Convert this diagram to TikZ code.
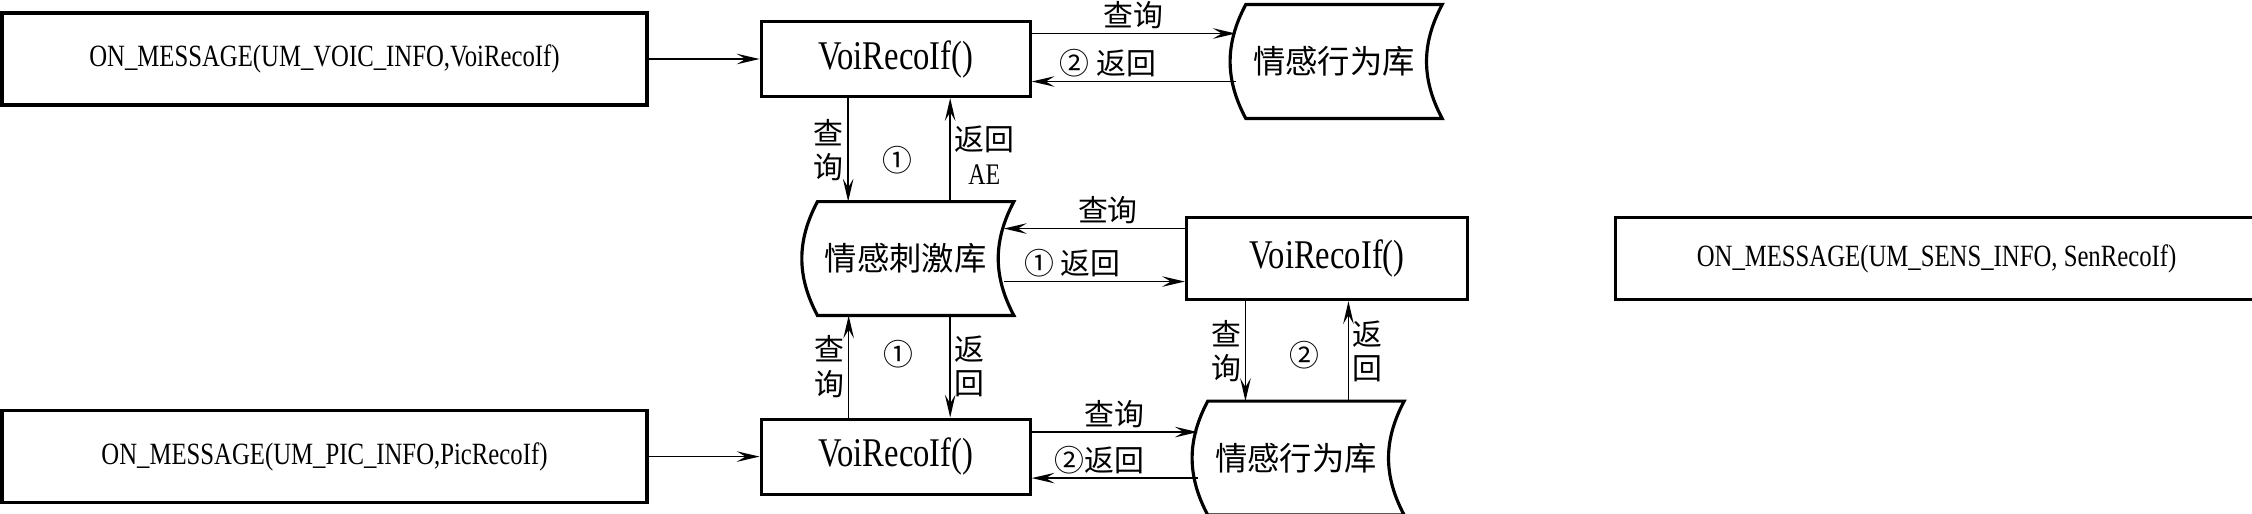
\documentclass[tikz,border=0pt]{standalone}
\usepackage{fontspec}
\setmainfont[FakeStretch=0.8]{Liberation Serif}
\newfontfamily\cjk{Noto Sans CJK SC}
\usetikzlibrary{arrows.meta, positioning}
\tikzset{
  msgbox/.style={draw, line width=0.9pt, minimum width=6.45cm, minimum height=0.92cm,
                 inner sep=0pt, font=\fontsize{8.8}{10}\selectfont},
  funcbox/.style={draw, line width=0.9pt, minimum width=2.69cm, minimum height=0.75cm,
                  inner sep=0pt, font=\fontsize{11.6}{13}\selectfont},
  storebox/.style={minimum width=1.95cm, minimum height=1.125cm, inner sep=0pt,
                   font=\cjk\fontsize{9.2}{10}\selectfont},
  storeline/.style={line width=0.9pt, line join=miter},
  arr/.style={-{Stealth[length=6.5pt, width=3pt, inset=2.5pt]}, line width=0.45pt},
  lbl/.style={font=\cjk\fontsize{8.5}{9.8}\selectfont, inner sep=1pt, align=center},
}
\begin{document}
\begin{tikzpicture}

  \useasboundingbox (0,0) rectangle (22.52,-5.13);
  \fill[white] (0,0) rectangle (22.52,-5.13);

  %% VOICE lane
  \node[msgbox] (voicmsg) at (3.245,-0.59) {ON\_MESSAGE(UM\_VOIC\_INFO,VoiRecoIf)};
  \node[funcbox, right=1.11cm of voicmsg] (voifunc) {VoiRecoIf()};
  \node[storebox, right=2.04cm of voifunc, yshift=-0.025cm] (behav1) {情感行为库};

  %% STIMULUS lane
  \node[storebox, below=1.035cm of voifunc, xshift=0.10cm] (stimlib) {情感刺激库};
  \node[funcbox, right=1.81cm of stimlib, minimum width=2.81cm, minimum height=0.82cm]
    (senfunc) {VoiRecoIf()};
  \node[msgbox, right=1.45cm of senfunc, minimum width=6.42cm, minimum height=0.82cm]
    (sensmsg) {ON\_MESSAGE(UM\_SENS\_INFO, SenRecoIf)};
  \node[storebox, below=1.00cm of senfunc, xshift=-0.31cm] (behav2) {情感行为库};

  %% PICTURE lane
  \node[funcbox, below=1.02cm of stimlib, xshift=-0.10cm] (picfunc) {VoiRecoIf()};
  \node[msgbox, left=1.11cm of picfunc] (picmsg) {ON\_MESSAGE(UM\_PIC\_INFO,PicRecoIf)};

  %% store outlines
  \foreach \lib in {behav1, stimlib, behav2}
    \draw[storeline] ([xshift=0.1cm]\lib.north) -- ([xshift=0.1cm]\lib.north east)
      to[bend right=28] ([xshift=0.1cm]\lib.south east) -- ([xshift=0.1cm]\lib.south west)
      to[bend left=28] ([xshift=0.1cm]\lib.north west) -- cycle;

  %% message arrows
  \draw[arr] (voicmsg.east) -- (voifunc.west);
  \draw[arr] (picmsg.east) -- (picfunc.west);

  %% voice <-> behaviour store
  \draw[arr] ([yshift=0.255cm]voifunc.east) -- node[lbl, above]{查询}
    ([yshift=0.255cm]voifunc.east -| behav1.west);
  \draw[arr] ([yshift=-0.225cm]voifunc.east -| behav1.west) -- node[lbl, above, xshift=-0.26cm]{② 返回}
    ([yshift=-0.225cm]voifunc.east);

  %% voice <-> stimulus store
  \draw[arr] ([xshift=-0.475cm]voifunc.south) -- node[lbl, left]{查\\询}
    node[lbl, right=0.3cm, pos=0.6]{①} ([xshift=-0.475cm]voifunc.south |- stimlib.north);
  \draw[arr] ([xshift=0.545cm]voifunc.south |- stimlib.north) -- node[lbl, right, pos=0.45]{返回\\{\rmfamily AE}}
    ([xshift=0.545cm]voifunc.south);

  %% sensor <-> stimulus store
  \draw[arr] ([yshift=0.30cm]senfunc.west) -- node[lbl, above, xshift=0.135cm]{查询}
    ([yshift=0.30cm]senfunc.west -| stimlib.east);
  \draw[arr] ([yshift=-0.23cm]senfunc.west -| stimlib.east) -- node[lbl, above, xshift=-0.22cm]{① 返回}
    ([yshift=-0.23cm]senfunc.west);

  %% sensor <-> behaviour store
  \draw[arr] ([xshift=-0.815cm]senfunc.south) -- node[lbl, left]{查\\询}
    node[lbl, right=0.395cm, pos=0.54]{②} ([xshift=-0.815cm]senfunc.south |- behav2.north);
  \draw[arr] ([xshift=0.215cm]senfunc.south |- behav2.north) -- node[lbl, right]{返\\回}
    ([xshift=0.215cm]senfunc.south);

  %% picture <-> stimulus store
  \draw[arr] ([xshift=-0.47cm]picfunc.north) -- node[lbl, left]{查\\询}
    node[lbl, right=0.31cm, pos=0.62]{①} ([xshift=-0.47cm]picfunc.north |- stimlib.south);
  \draw[arr] ([xshift=0.545cm]picfunc.north |- stimlib.south) -- node[lbl, right]{返\\回}
    ([xshift=0.545cm]picfunc.north);

  %% picture <-> behaviour store
  \draw[arr] ([yshift=0.245cm]picfunc.east) -- node[lbl, above]{查询}
    ([yshift=0.245cm]picfunc.east -| behav2.west);
  \draw[arr] ([yshift=-0.215cm]picfunc.east -| behav2.west) -- node[lbl, above, xshift=-0.155cm]{②返回}
    ([yshift=-0.215cm]picfunc.east);

\end{tikzpicture}
\end{document}
